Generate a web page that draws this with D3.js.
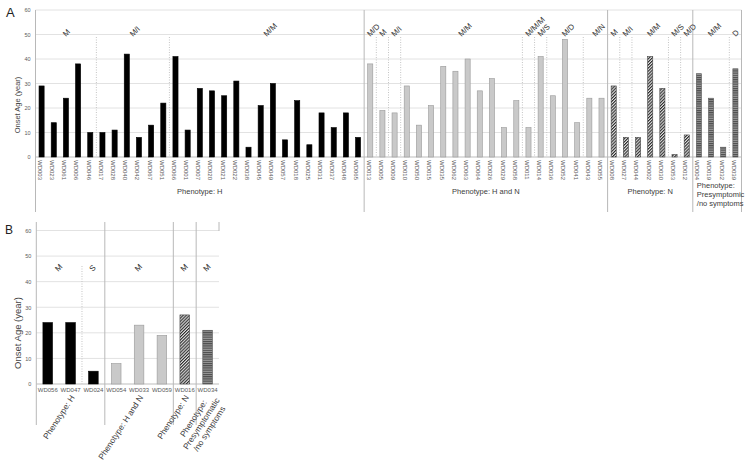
<!DOCTYPE html>
<html><head><meta charset="utf-8">
<script src="https://cdn.jsdelivr.net/npm/d3@7"></script>
<style>body{margin:0;background:#fff}svg{display:block;font-family:"Liberation Sans",Arial,sans-serif;opacity:0.999}</style>
</head><body><svg id="c" width="750" height="464"></svg>
<script>
// ---------------- DATA ----------------
const yTicks = [0, 10, 20, 30, 40, 50, 60];

// Panel A
const catsA_H = ["WD003","WD023","WD061","WD006","WD046","WD017","WD028","WD040","WD042","WD067","WD051","WD066","WD001","WD007","WD020","WD021","WD022","WD038","WD045","WD049","WD057","WD018","WD025","WD031","WD037","WD048","WD065"];
const valsA_H = [29,14,24,38,10,10,11,42,8,13,22,41,11,28,27,25,31,4,21,30,7,23,5,18,12,18,8];
const catsA_HN = ["WD013","WD005","WD009","WD010","WD050","WD015","WD035","WD062","WD063","WD064","WD026","WD029","WD058","WD011","WD014","WD036","WD052","WD041","WD043","WD055"];
const valsA_HN = [38,19,18,29,13,21,37,35,40,27,32,12,23,12,41,25,48,14,24,24];
const catsA_N = ["WD008","WD027","WD044","WD002","WD030","WD053","WD012"];
const valsA_N = [29,8,8,41,28,1,9];
const catsA_P = ["WD004","WD019","WD032","WD039"];
const valsA_P = [34,24,4,36];
const mutGroupsA = [
  ["M","WD003","WD046"],["M/I","WD017","WD051"],["M/M","WD066","WD065"],
  ["M/D","WD013","WD013"],["M","WD005","WD005"],["M/I","WD009","WD009"],["M/M","WD010","WD058"],
  ["M/M/M","WD011","WD011"],["M/S","WD014","WD014"],["M/D","WD036","WD041"],["M/N","WD043","WD055"],
  ["M","WD008","WD008"],["M/I","WD027","WD027"],["M/M","WD044","WD030"],["M/S","WD053","WD053"],["M/D","WD012","WD012"],
  ["M/M","WD004","WD032"],["D","WD039","WD039"]
];
const phenoLabelsA = {H:["Phenotype: H"], HN:["Phenotype: H and N"], N:["Phenotype: N"], P:["Phenotype:","Presymptomic","/no symptoms"]};

// Panel B
const catsB_H = ["WD056","WD047","WD024"];
const valsB_H = [24,24,5];
const catsB_HN = ["WD054","WD033","WD059"];
const valsB_HN = [8,23,19];
const catsB_N = ["WD016"];
const valsB_N = [27];
const catsB_P = ["WD034"];
const valsB_P = [21];
const mutGroupsB = [["M","WD056","WD047"],["S","WD024","WD024"],["M","WD054","WD059"],["M","WD016","WD016"],["M","WD034","WD034"]];
const phenoLabelsB = {H:["Phenotype: H"], HN:["Phenotype: H and N"], N:["Phenotype: N"], P:["Phenotype:","Presymptomatic","/no symptoms"]};

// ---------------- BUILD ----------------
function build(groups) {
  const rows = [];
  groups.forEach(([type, cats, vals]) => cats.forEach((c, i) => rows.push({cat: c, val: vals[i], type})));
  return rows;
}
const rowsA = build([["H",catsA_H,valsA_H],["HN",catsA_HN,valsA_HN],["N",catsA_N,valsA_N],["P",catsA_P,valsA_P]]);
const rowsB = build([["H",catsB_H,valsB_H],["HN",catsB_HN,valsB_HN],["N",catsB_N,valsB_N],["P",catsB_P,valsB_P]]);

const svg = d3.select("#c");
const FONT = '"Liberation Sans", Arial, sans-serif';
const defs = svg.append("defs");
const hatch = defs.append("pattern").attr("id","hatch").attr("patternUnits","userSpaceOnUse")
  .attr("width",2.2).attr("height",2.2).attr("patternTransform","rotate(45)");
hatch.append("rect").attr("width",2.2).attr("height",2.2).attr("fill","#e4e4e4");
hatch.append("rect").attr("width",1.1).attr("height",2.2).attr("fill","#2a2a2a");
const stripes = defs.append("pattern").attr("id","stripes").attr("patternUnits","userSpaceOnUse")
  .attr("width",4).attr("height",2.2);
stripes.append("rect").attr("width",4).attr("height",2.2).attr("fill","#9a9a9a");
stripes.append("rect").attr("width",4).attr("height",1.1).attr("fill","#4a4a4a");

const fills = {H:"#000", HN:"#c9c9c9", N:"url(#hatch)", P:"url(#stripes)"};
const strokes = {H:"#000", HN:"#999", N:"#444", P:"#555"};

function runs(rows) {
  const out = [];
  rows.forEach(r => {
    const last = out[out.length - 1];
    if (last && last.type === r.type) last.last = r.cat;
    else out.push({type: r.type, first: r.cat, last: r.cat});
  });
  return out;
}

function panel(p) {
  const g = svg.append("g");
  const x = d3.scaleBand().domain(p.rows.map(d => d.cat)).range(p.xRange).padding(0);
  const y = d3.scaleLinear().domain([0, 60]).range(p.yRange);
  const bw = x.bandwidth() * p.barFrac;
  const x0 = p.xRange[0], x1 = p.xRange[1];
  const groups = runs(p.rows);

  // gridlines
  g.append("g").selectAll("line").data(yTicks.filter(v => v > 0)).join("line")
    .attr("x1", x0).attr("x2", x1).attr("y1", d => y(d)).attr("y2", d => y(d))
    .attr("stroke", "#e2e2e2").attr("stroke-width", 1);
  // baseline
  g.append("line").attr("x1", x0).attr("x2", x1).attr("y1", y(0)).attr("y2", y(0))
    .attr("stroke", "#bdbdbd");

  // dotted separators between mutation groups
  const dots = p.mut.filter(m => !groups.some(gr => gr.first === m[1]));
  g.append("g").selectAll("line").data(dots).join("line")
    .attr("x1", d => x(d[1])).attr("x2", d => x(d[1]))
    .attr("y1", p.dotTop).attr("y2", y(0))
    .attr("stroke", "#c4c4c4").attr("stroke-dasharray", "1,1.5");

  // phenotype separators
  const seps = groups.map(gr => x(gr.first));
  g.append("g").selectAll("line").data(seps).join("line")
    .attr("x1", d => d).attr("x2", d => d).attr("y1", p.sepTop).attr("y2", p.sepBottom)
    .attr("stroke", "#b8b8b8");
  g.append("line").attr("x1", x1).attr("x2", x1).attr("y1", p.sepTop).attr("y2", p.rightBottom)
    .attr("stroke", "#b8b8b8");

  // y axis
  const ya = g.append("g").attr("transform", `translate(${x0},0)`)
    .call(d3.axisLeft(y).tickValues(yTicks).tickSize(0).tickPadding(5));
  ya.select(".domain").remove();
  ya.selectAll("text").attr("font-size", 5.5).attr("fill", "#5a5a5a").attr("font-family", FONT);

  // bars
  g.append("g").selectAll("rect").data(p.rows).join("rect")
    .attr("x", d => x(d.cat) + (x.bandwidth() - bw) / 2)
    .attr("y", d => y(d.val)).attr("width", bw).attr("height", d => y(0) - y(d.val))
    .attr("fill", d => fills[d.type]).attr("stroke", d => strokes[d.type]).attr("stroke-width", 0.6);

  // x axis labels
  const xa = g.append("g").attr("transform", `translate(0,${y(0)})`)
    .call(d3.axisBottom(x).tickSize(0).tickPadding(p.tickPad));
  xa.select(".domain").remove();
  const xt = xa.selectAll("text").attr("font-size", 6).attr("fill", "#5a5a5a").attr("font-family", FONT);
  if (p.rotateTicks) {
    xt.attr("transform", "rotate(90)").attr("x", 3).attr("y", 3.6).attr("dy", 0).style("text-anchor", "start");
  }

  // mutation labels
  g.append("g").selectAll("text").data(p.mut).join("text")
    .attr("transform", d => {
      const cx = (x(d[1]) + x(d[2]) + x.bandwidth()) / 2 + p.mutDx;
      return `translate(${cx},${p.mutY}) rotate(-45)`;
    })
    .attr("font-size", p.mutSize).attr("fill", "#333").attr("font-family", FONT)
    .text(d => d[0]);

  return {g, x, y, groups};
}

// ---------- Panel A ----------
const A = panel({rows: rowsA, mut: mutGroupsA, xRange: [35.5, 741.5], yRange: [157, 10],
  barFrac: 0.42, dotTop: 37, sepTop: 10, sepBottom: 212, rightBottom: 212,
  tickPad: 3, rotateTicks: true, mutDx: 0, mutY: 37, mutSize: 7.8});

A.groups.forEach(gr => {
  const s = A.x(gr.first), e = A.x(gr.last) + A.x.bandwidth();
  const lines = phenoLabelsA[gr.type];
  const t = A.g.append("text").attr("font-size", 7.5).attr("fill", "#3c3c3c").attr("font-family", FONT);
  if (lines.length === 1) {
    t.attr("x", (s + e) / 2).attr("y", 194).attr("text-anchor", "middle").text(lines[0]);
  } else {
    t.attr("x", s + 4).attr("y", 188).attr("text-anchor", "start");
    lines.forEach((l, i) => t.append("tspan").attr("x", s + 4).attr("dy", i ? 9 : 0).text(l));
  }
});
svg.append("text").attr("transform", "translate(20,105) rotate(-90)").attr("text-anchor", "middle")
  .attr("font-size", 7.5).attr("fill", "#444").attr("font-family", FONT).text("Onset Age (year)");
svg.append("text").attr("x", 6).attr("y", 17).attr("font-size", 13).attr("fill", "#222")
  .attr("font-family", FONT).text("A");

// ---------- Panel B ----------
const B = panel({rows: rowsB, mut: mutGroupsB, xRange: [36.3, 219], yRange: [384, 230.5],
  barFrac: 0.42, dotTop: 266, sepTop: 222, sepBottom: 425, rightBottom: 231,
  tickPad: 4, rotateTicks: false, mutDx: -1, mutY: 272, mutSize: 8});

const ANG = -57, rad = ANG * Math.PI / 180;
B.groups.forEach(gr => {
  const s = B.x(gr.first), e = B.x(gr.last) + B.x.bandwidth();
  const lines = phenoLabelsB[gr.type];
  const lh = 9.5, n = lines.length;
  const off = (n - 1) / 2 * lh;
  const ax = (s + e) / 2 + 2 + off * Math.sin(-rad), ay = 396 + off * Math.cos(-rad) * 0.5;
  const tg = B.g.append("g").attr("transform", `translate(${ax},${ay}) rotate(${ANG})`);
  const texts = lines.map((l, i) => tg.append("text").attr("font-size", 8.3).attr("fill", "#3c3c3c")
    .attr("font-family", FONT).attr("text-anchor", "middle")
    .attr("y", (i - (n - 1) / 2) * lh).attr("dy", "0.35em").text(l));
  const maxL = d3.max(texts, t => t.node().getComputedTextLength());
  texts.forEach(t => t.attr("x", -maxL / 2));
});
svg.append("text").attr("transform", "translate(21,333) rotate(-90)").attr("text-anchor", "middle")
  .attr("font-size", 9.5).attr("fill", "#444").attr("font-family", FONT).text("Onset Age (year)");
svg.append("text").attr("x", 5).attr("y", 234).attr("font-size", 12).attr("fill", "#222")
  .attr("font-family", FONT).text("B");
</script></body></html>
